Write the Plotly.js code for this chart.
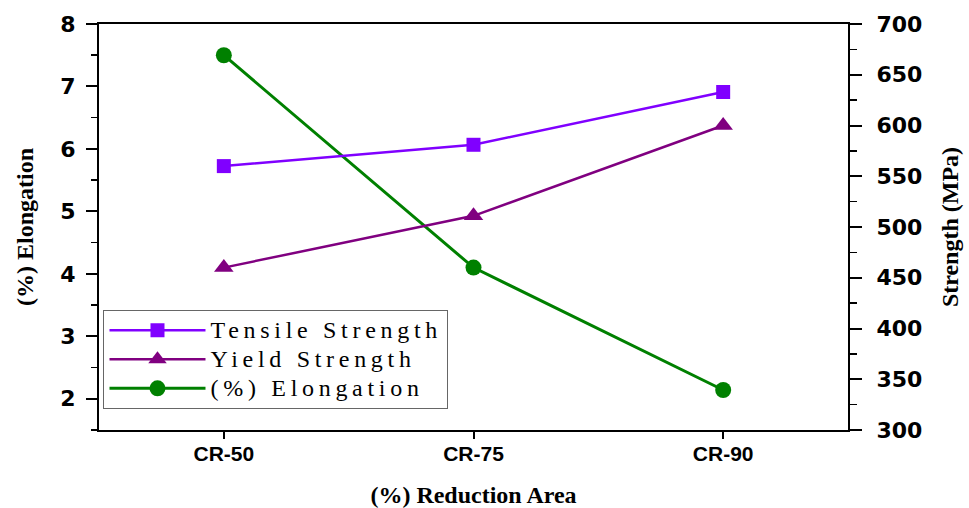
<!DOCTYPE html>
<html><head><meta charset="utf-8">
<script src="https://cdn.plot.ly/plotly-3.0.1.min.js"></script>
<style>
html,body{margin:0;padding:0;background:#fff;}
#chart{width:969px;height:508px;}
.legendtext{letter-spacing:4.7px; font-size:24px !important;}
</style></head>
<body><div id="chart"></div>
<script>
const categories = ["CR-50", "CR-75", "CR-90"];
const tensileStrength = [560, 581, 633];
const yieldStrength = [460, 511, 600];
const elongation = [7.5, 4.1, 2.14];
const seriesNames = ["Tensile Strength", "Yield Strength", "(%) Elongation"];

const xTickFont = {family: "Arial, 'Liberation Sans', sans-serif", size: 21, color: "#000", weight: "bold"};
const yTickFont = {family: "'DejaVu Sans', sans-serif", size: 22, color: "#000", weight: "bold"};
const titleFont = {family: "'Times New Roman', 'Liberation Serif', serif", size: 24, color: "#000", weight: "bold"};

const traces = [
  {x: categories, y: tensileStrength, name: seriesNames[0], type: "scatter", mode: "lines+markers",
   yaxis: "y2", line: {color: "#8000FF", width: 2.5}, marker: {symbol: "square", size: 14, color: "#8000FF"}},
  {x: categories, y: yieldStrength, name: seriesNames[1], type: "scatter", mode: "lines+markers",
   yaxis: "y2", line: {color: "#800080", width: 2.5}, marker: {symbol: "triangle-up", size: 17, color: "#800080"}},
  {x: categories, y: elongation, name: seriesNames[2], type: "scatter", mode: "lines+markers",
   yaxis: "y", line: {color: "#008000", width: 3}, marker: {symbol: "circle", size: 16, color: "#008000"}}
];

const layout = {
  width: 969, height: 508,
  margin: {l: 99, r: 121, t: 24, b: 78},
  paper_bgcolor: "#fff", plot_bgcolor: "#fff",
  showlegend: true,
  legend: {x: 0.006, y: 0.296, xanchor: "left", yanchor: "top", bgcolor: "#fff",
           bordercolor: "#666", borderwidth: 1, itemwidth: 96, tracegroupgap: 0,
           font: {family: "'Times New Roman', 'Liberation Serif', serif", size: 20, color: "#000"}},
  xaxis: {type: "category", range: [-0.5, 2.5], showgrid: false, zeroline: false,
          showline: true, linecolor: "#000", linewidth: 2, mirror: true,
          ticks: "outside", ticklen: 7, tickwidth: 2, tickcolor: "#000",
          ticklabelstandoff: -3,
          tickfont: xTickFont,
          title: {text: "(%) Reduction Area", font: titleFont, standoff: 38}},
  xaxis2: {overlaying: "x", type: "linear", range: [-0.5, 2.5], side: "bottom",
           tickvals: [-0.5, 0.5, 1.5, 2.5], showticklabels: false, ticks: "outside",
           ticklen: 4, tickwidth: 2, tickcolor: "#000", showgrid: false, zeroline: false, showline: false},
  xaxis3: {overlaying: "x", type: "linear", range: [-0.5, 2.5], side: "top",
           tickvals: [0, 1, 2], showticklabels: false, ticks: "inside",
           ticklen: 6, tickwidth: 2, tickcolor: "#000", showgrid: false, zeroline: false, showline: false},
  yaxis: {range: [1.5, 8], tick0: 2, dtick: 1, showgrid: false, zeroline: false,
          showline: true, linecolor: "#000", linewidth: 2,
          ticks: "outside", ticklen: 11, tickwidth: 2, tickcolor: "#000",
          ticklabelstandoff: 6,
          minor: {dtick: 0.5, tick0: 1.5, ticks: "outside", ticklen: 6, tickwidth: 1.5, tickcolor: "#000"},
          tickfont: yTickFont,
          title: {text: "(%) Elongation", font: titleFont, standoff: 20}},
  yaxis2: {overlaying: "y", side: "right", range: [300, 700], tick0: 300, dtick: 50,
           showgrid: false, zeroline: false,
           showline: true, linecolor: "#000", linewidth: 2,
           ticks: "outside", ticklen: 12, tickwidth: 2, tickcolor: "#000",
           ticklabelstandoff: 10,
           minor: {dtick: 25, tick0: 300, ticks: "outside", ticklen: 7, tickwidth: 1.5, tickcolor: "#000"},
           tickfont: yTickFont,
           title: {text: "Strength (MPa)", font: titleFont, standoff: 20}}
};

Plotly.newPlot("chart", traces, layout, {displayModeBar: false, staticPlot: true});
</script></body></html>
